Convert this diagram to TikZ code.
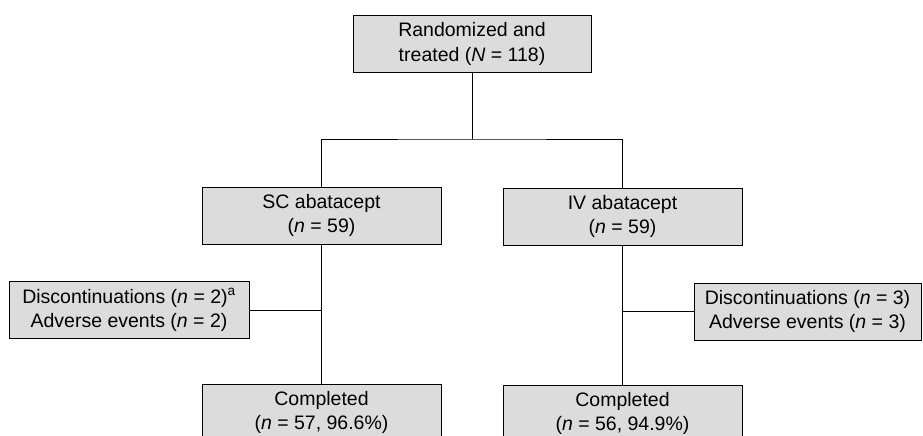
\documentclass[tikz,border=0pt]{standalone}
\usepackage{fontspec}
\setmainfont{Liberation Sans}
\definecolor{boxgray}{RGB}{220, 220, 220}
\usepackage{tikz}
\usetikzlibrary{positioning, calc}

\begin{document}
\begin{tikzpicture}[
  x=1pt, y=-1pt,
  flowbox/.style={draw, line width=0.9pt, fill=boxgray, minimum height=57pt, align=center, inner sep=0pt, font=\fontsize{19.5}{24.5}\selectfont},
  armbox/.style={flowbox, minimum width=239pt},
  link/.style={line width=0.9pt}
]
  \useasboundingbox (0, 0) rectangle (923, 436);
  \clip (0, 0) rectangle (923, 436);

  \node[flowbox, minimum width=238pt] (rand) at (472, 44) {
    Randomized and\\
    treated (\textit{N} = 118)
  };
  \node[armbox] (sc) at (321.5, 215.5) {
    SC abatacept\\
    (\textit{n} = 59)
  };
  \node[armbox] (iv) at (622.5, 216.5) {
    IV abatacept\\
    (\textit{n} = 59)
  };
  \node[flowbox, minimum width=240pt] (scdisc) at (129, 310) {
    Discontinuations (\textit{n} = 2)\textsuperscript{a}\\
    Adverse events (\textit{n} = 2)
  };
  \node[flowbox, minimum width=227pt] (ivdisc) at (807.5, 311.5) {
    Discontinuations (\textit{n} = 3)\\
    Adverse events (\textit{n} = 3)
  };
  \node[armbox] (scdone) at (321.5, 412.5) {
    Completed\\
    (\textit{n} = 57, 96.6\%)
  };
  \node[armbox] (ivdone) at (622.5, 413.5) {
    Completed\\
    (\textit{n} = 56, 94.9\%)
  };

  \coordinate (split) at (472, 139);
  \draw[link] (rand) -- (split);
  \draw[link] (sc.north) |- (split) -| (iv.north);
  \draw[link] (sc) -- (scdone);
  \draw[link] (iv) -- (ivdone);
  \draw[link] (scdisc.east) -- (scdisc.east -| sc);
  \draw[link] (ivdisc.west) -- (ivdisc.west -| iv);
\end{tikzpicture}
\end{document}
